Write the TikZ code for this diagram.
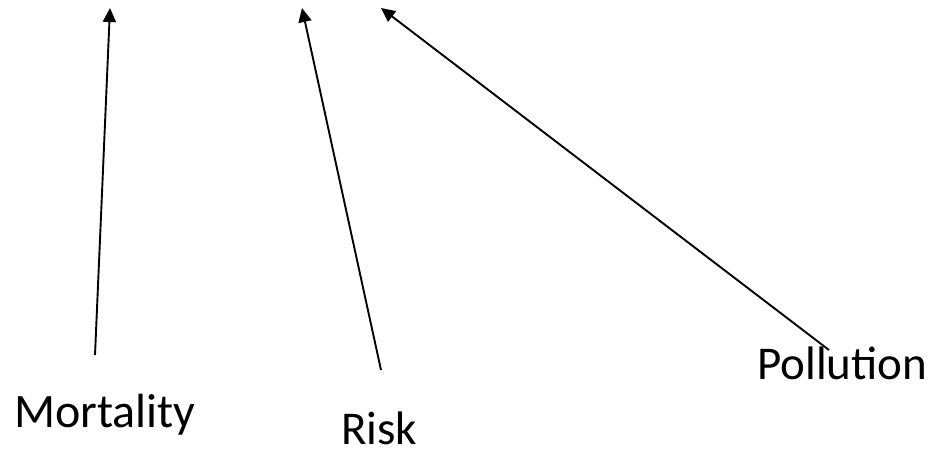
\documentclass[tikz,border=0pt]{standalone}
\usepackage{fontspec}
\setmainfont{Carlito}
\usetikzlibrary{arrows.meta}
\begin{document}
\begin{tikzpicture}[x=1pt,y=-1pt,
  arr/.style={line width=1.9pt,-{Triangle[length=14pt,width=13pt]}},
  lbl/.style={inner sep=0pt,anchor=base west,text depth=0pt,font=\fontsize{47}{50}\selectfont}]
\useasboundingbox (0,0) rectangle (930,453);
\node[lbl,font=\fontsize{48}{52}\selectfont,text depth=10pt] (m) at (14,427) {Mortality};
\node[lbl] (r) at (341,444) {Risk};
\node[lbl] (p) at (757,379) {Pollution};
\coordinate (ms) at (95,355);
\coordinate (mt) at (110,8);
\coordinate (rs) at (381,370);
\coordinate (rt) at (302,8);
\coordinate (ps) at (829,350);
\coordinate (pt) at (381,8);
\draw[arr] (ms) -- (mt);
\draw[arr] (rs) -- (rt);
\draw[arr] (ps) -- (pt);
\end{tikzpicture}
\end{document}
